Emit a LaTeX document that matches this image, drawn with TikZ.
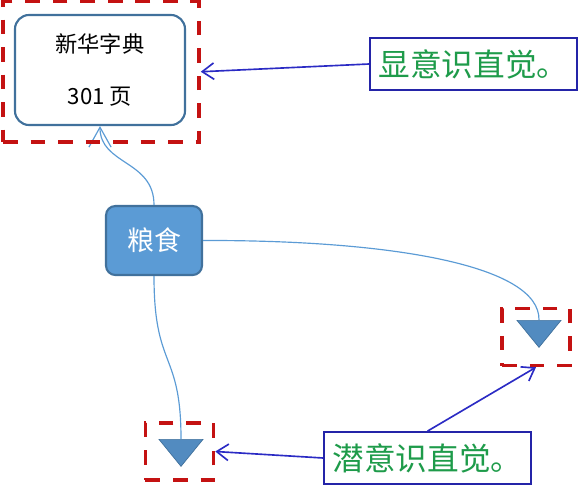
\documentclass[tikz,border=0pt]{standalone}
\usepackage{fontspec}
\setmainfont{Noto Sans CJK SC}
\usepackage{tikz}
\usetikzlibrary{arrows.meta}
\usetikzlibrary{shapes.geometric}
\definecolor{boxblue}{HTML}{41719C}
\definecolor{fillblue}{HTML}{5B9BD5}
\definecolor{framered}{HTML}{C41212}
\definecolor{cuenavy}{HTML}{2424A8}
\definecolor{pointerblue}{HTML}{2B2BC4}
\definecolor{cuegreen}{HTML}{1E9B4A}

\begin{document}
\begin{tikzpicture}[x=0.03cm, y=-0.03cm,
		framebox/.style={draw=framered, line width=3pt, dash pattern=on 12.5pt off 11pt, inner sep=0pt},
		cue/.style={draw=cuenavy, line width=1.5pt, text=cuegreen, font=\fontsize{27}{30}\selectfont,
			minimum width=6.21cm, minimum height=1.56cm, inner sep=0pt},
		marker/.style={isosceles triangle, isosceles triangle stretches, shape border rotate=270,
			fill=fillblue!90!black, draw=boxblue, line width=0.6pt, minimum width=1.32cm, minimum height=0.81cm, inner sep=0pt},
		branch/.style={draw=fillblue, line width=1pt},
		pointer/.style={draw=pointerblue, line width=1.4pt, -{Straight Barb[length=10pt,width=14pt]}}]
		\useasboundingbox (0, 0) rectangle (578, 502);
		% boxes
		\node[draw=boxblue, line width=1.8pt, fill=white, rounded corners=12pt, minimum width=5.1cm, minimum height=3.3cm,
			align=center, font=\fontsize{19}{44}\selectfont] (dict) at (100, 70) {新华字典\\301 页};
		\node[draw=boxblue, line width=1.8pt, fill=fillblue, rounded corners=8pt, minimum width=2.88cm, minimum height=2.07cm,
			text=white, font=\fontsize{23}{26}\selectfont] (grain) at (154, 240.5) {粮食};
		\node[marker, anchor=north] (rtri) at (539, 320) {};
		\node[marker, anchor=north] (ltri) at (181, 439) {};
		% links from grain
		\draw[branch, -{Straight Barb[length=17pt,width=19pt]}] (grain.north) .. controls (154, 160) and (100, 165) .. (dict.south);
		\draw[branch] (grain.east) .. controls (390, 240) and (540, 265) .. (rtri.north);
		\draw[branch] (grain.south) .. controls (154, 370) and (181, 350) .. (ltri.north);
		% dashed frames
		\node[framebox, minimum width=5.88cm, minimum height=4.215cm] (dictframe) at (101, 71.75) {};
		\node[framebox, minimum width=2.04cm, minimum height=1.71cm] (rframe) at (536, 337) {};
		\node[framebox, minimum width=2.04cm, minimum height=1.71cm] (lframe) at (179.5, 451.5) {};
		% intuition labels
		\node[cue] (conscious) at (473.5, 64) {显意识直觉。};
		\node[cue] (subcon) at (427.5, 458) {潜意识直觉。};
		\draw[pointer] (conscious.west) -- (dictframe.east);
		\draw[pointer] (subcon.west) -- (lframe.east);
		\draw[pointer] (subcon.north) -- (rframe.south);
	\end{tikzpicture}
\end{document}
